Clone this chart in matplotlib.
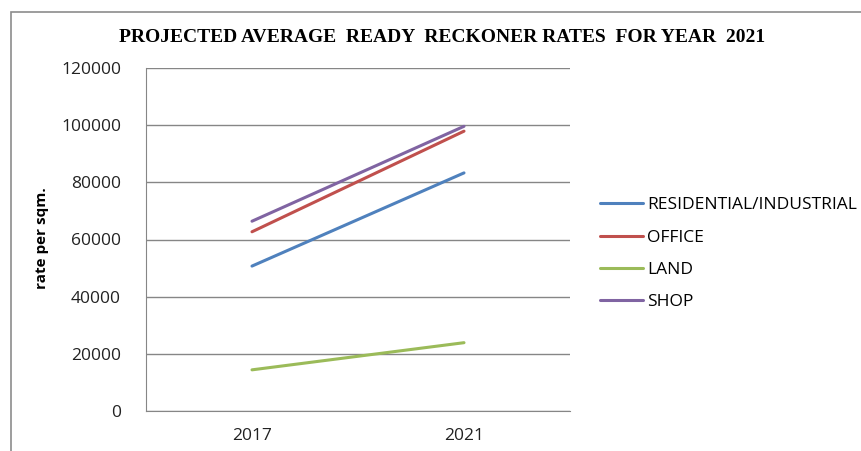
import matplotlib.pyplot as plt
from matplotlib.patches import Rectangle

years = ['2017', '2021']
residential = [50700, 83300]
office = [62700, 97900]
land = [14400, 23900]
shop = [66400, 99600]

series = [
    ('RESIDENTIAL/INDUSTRIAL', residential, '#4F81BD'),
    ('OFFICE', office, '#C0504D'),
    ('LAND', land, '#9BBB59'),
    ('SHOP', shop, '#8064A2'),
]

fig = plt.figure(figsize=(8.61, 4.51), dpi=100)
ax = fig.add_axes([146 / 861, 1 - 411 / 451, (570 - 146) / 861, (411 - 68) / 451])

# outer chart border (cut off at right and bottom)
fig.patches.append(Rectangle((11 / 861, -0.1), 1.2, 1 - 12 / 451 + 0.1,
                             transform=fig.transFigure, fill=False,
                             edgecolor='#8c8c8c', linewidth=1.2))

x = [0.5, 1.5]
for name, vals, color in series:
    ax.plot(x, vals, color=color, linewidth=2.2, label=name, solid_capstyle='round')

ax.set_xlim(0, 2)
ax.set_ylim(0, 120000)
ax.set_yticks(range(0, 120001, 20000))
ax.set_xticks(x)
ax.set_xticklabels(years)
ax.yaxis.grid(True, color='#868686', linewidth=1.0)
ax.set_axisbelow(True)

for s in ['top', 'right']:
    ax.spines[s].set_visible(False)
ax.spines['left'].set_color('#868686')
ax.spines['bottom'].set_color('#868686')
ax.tick_params(axis='both', length=0, labelsize=12.5, colors='#222222')
ax.tick_params(axis='y', pad=18)
ax.tick_params(axis='x', pad=12)
for lbl in ax.get_xticklabels() + ax.get_yticklabels():
    lbl.set_fontfamily('Open Sans')

ax.set_ylabel('rate per sqm.', fontsize=11, fontweight='bold', family='Open Sans')
ax.yaxis.set_label_coords(-0.228, 0.505)

fig.text(0.513, 1 - 38 / 451, 'PROJECTED AVERAGE  READY  RECKONER RATES  FOR YEAR  2021',
         ha='center', va='center', fontsize=14, fontweight='bold', family='Liberation Serif')

ax.legend(loc='center left', bbox_to_anchor=(1.033, 0.459), frameon=False,
          prop={'family': 'Open Sans', 'size': 12.5}, handlelength=2.5,
          handletextpad=0.25, labelspacing=0.92)

fig.savefig('out.png', dpi=100)
